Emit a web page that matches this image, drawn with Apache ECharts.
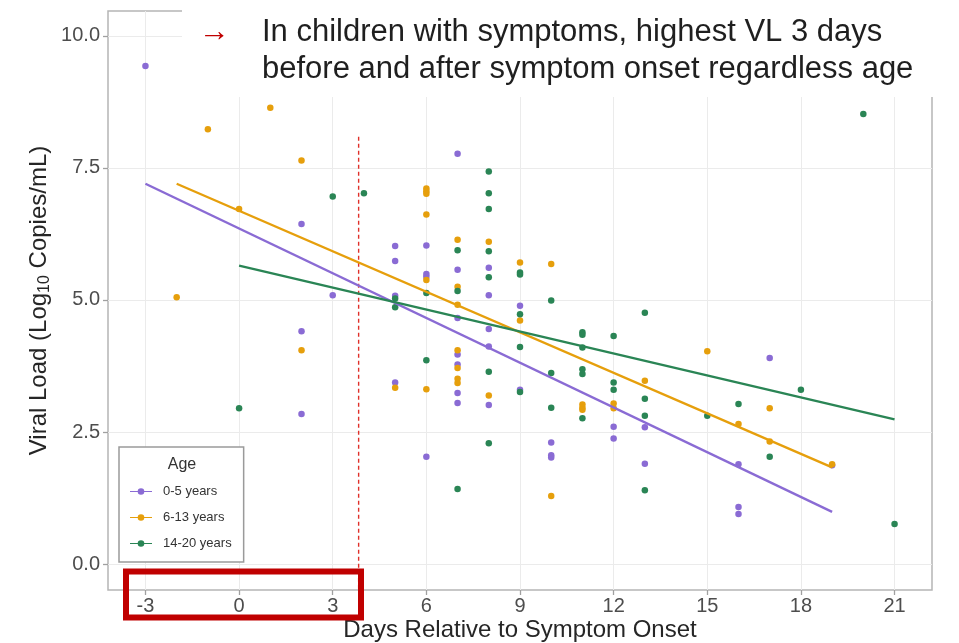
<!DOCTYPE html>
<html>
<head>
<meta charset="utf-8">
<script src="https://cdn.jsdelivr.net/npm/echarts@6/dist/echarts.min.js"></script>
<style>
html,body{margin:0;padding:0;background:#fff;}
#chart{width:959px;height:643px;}
</style>
</head>
<body>
<div id="chart"></div>
<script>
// ---- data ----
var xTicks = [-3, 0, 3, 6, 9, 12, 15, 18, 21];
var yTicks = [0, 2.5, 5, 7.5, 10];
var groupNames = ['0-5 years', '6-13 years', '14-20 years'];

var age0to5 = [
  [-3, 9.43],
  [2, 6.44], [2, 4.41], [2, 2.84],
  [3, 5.09],
  [5, 6.02], [5, 5.74], [5, 5.08], [5, 3.44],
  [6, 6.03], [6, 5.49], [6, 5.44], [6, 2.03],
  [7, 7.77], [7, 5.57], [7, 4.66], [7, 3.97], [7, 3.78], [7, 3.24], [7, 3.05],
  [8, 5.61], [8, 5.09], [8, 4.45], [8, 4.12], [8, 3.01],
  [9, 4.89], [9, 3.30],
  [10, 2.30], [10, 2.06], [10, 2.02],
  [12, 2.60], [12, 2.38],
  [13, 2.59], [13, 1.90],
  [16, 1.89], [16, 1.08], [16, 0.95],
  [17, 3.90],
  [19, 1.87]
];
var age6to13 = [
  [-2, 5.05], [-1, 8.23], [0, 6.72], [1, 8.64],
  [2, 7.64], [2, 4.05],
  [5, 3.34],
  [6, 7.11], [6, 7.06], [6, 7.01], [6, 6.62], [6, 5.38], [6, 3.31],
  [7, 6.14], [7, 5.25], [7, 4.91], [7, 4.05], [7, 3.71], [7, 3.51], [7, 3.43],
  [8, 6.10], [8, 3.19],
  [9, 5.71], [9, 4.61],
  [10, 5.68], [10, 1.29],
  [11, 3.02], [11, 2.96], [11, 2.92],
  [12, 3.04], [12, 2.95],
  [13, 3.47],
  [15, 4.03],
  [16, 2.65],
  [17, 2.95], [17, 2.32],
  [19, 1.89]
];
var age14to20 = [
  [0, 2.95], [3, 6.96], [4, 7.02],
  [5, 5.03], [5, 4.86],
  [6, 5.13], [6, 3.86],
  [7, 5.94], [7, 5.17], [7, 1.42],
  [8, 7.43], [8, 7.02], [8, 6.72], [8, 5.92], [8, 5.43], [8, 3.64], [8, 2.29],
  [9, 5.52], [9, 5.48], [9, 4.73], [9, 4.11], [9, 3.26],
  [10, 4.99], [10, 3.62], [10, 2.96],
  [11, 4.39], [11, 4.34], [11, 4.10], [11, 3.69], [11, 3.60], [11, 2.76],
  [12, 4.32], [12, 3.44], [12, 3.30],
  [13, 4.76], [13, 3.13], [13, 2.81], [13, 1.40],
  [15, 2.81], [16, 3.03], [17, 2.03], [18, 3.30],
  [20, 8.52], [21, 0.76]
];
// fitted trend lines (end points)
var fit0to5 = [[-3, 7.20], [19, 0.99]];
var fit6to13 = [[-2, 7.20], [19, 1.83]];
var fit14to20 = [[0, 5.65], [21, 2.74]];
// dashed marker near symptom onset
var onsetMarker = [[3.83, 8.09], [3.83, -0.49]];

var colors = ['#8a6bd4', '#e69f0c', '#2a8555'];
var FONT = "'Liberation Sans', Arial, sans-serif";

var legendIcon = 'path://M0,9 L40,9 L40,11 L0,11 Z M20,4 A6,6 0 1,1 20,16 A6,6 0 1,1 20,4 Z';

function scatter(name, data, color) {
  return {
    name: name, type: 'scatter', data: data, symbolSize: 6.5,
    itemStyle: {color: color, opacity: 1}, z: 3, silent: true
  };
}
function fit(name, data, color) {
  return {
    name: name, type: 'line', data: data, showSymbol: false, symbol: 'none',
    lineStyle: {color: color, width: 2.4}, itemStyle: {color: color}, z: 4, silent: true
  };
}

var chart = echarts.init(document.getElementById('chart'), null, {renderer: 'canvas'});
chart.setOption({
  animation: false,
  backgroundColor: '#fff',
  textStyle: {fontFamily: FONT},
  grid: {
    left: 108, right: 27, top: 11, bottom: 53,
    outerBoundsMode: 'none', containLabel: false,
    show: true, borderColor: '#b5b5b5', borderWidth: 1.5, backgroundColor: 'transparent'
  },
  xAxis: {
    type: 'value', min: -4.2, max: 22.2,
    name: 'Days Relative to Symptom Onset', nameLocation: 'middle', nameGap: 28, nameMoveOverlap: false,
    nameTextStyle: {fontSize: 24, color: '#262626', fontFamily: FONT},
    axisLine: {show: false, onZero: false},
    axisTick: {show: true, length: 5, customValues: xTicks, lineStyle: {color: '#a0a0a0', width: 1.3}},
    axisLabel: {customValues: xTicks, fontSize: 20, color: '#4d4d4d', margin: 6, fontFamily: FONT,
      formatter: function (v) { return String(v); }},
    splitLine: {show: true, lineStyle: {color: '#ebebeb', width: 1}}
  },
  yAxis: {
    type: 'value', min: -0.49, max: 10.47,
    name: 'Viral Load (Log{sub|10} Copies/mL)', nameLocation: 'middle', nameGap: 55, nameMoveOverlap: false,
    nameTextStyle: {fontSize: 24, color: '#262626', fontFamily: FONT,
      rich: {sub: {fontSize: 16, color: '#262626', fontFamily: FONT, verticalAlign: 'top', padding: [11, 0, 0, 0]}}},
    axisLine: {show: false, onZero: false},
    axisTick: {show: true, length: 5, customValues: yTicks, lineStyle: {color: '#a0a0a0', width: 1.3}},
    axisLabel: {customValues: yTicks, fontSize: 20, color: '#4d4d4d', margin: 8, fontFamily: FONT,
      formatter: function (v) { return v.toFixed(1); }},
    splitLine: {show: true, lineStyle: {color: '#ebebeb', width: 1}}
  },
  legend: {
    data: groupNames, orient: 'vertical', left: 119, top: 447,
    padding: [38, 12, 12, 11], itemGap: 13, itemWidth: 22, itemHeight: 11,
    icon: legendIcon, selectedMode: false,
    backgroundColor: '#fff', borderColor: '#9a9a9a', borderWidth: 1.5, borderRadius: 0,
    textStyle: {fontSize: 13, color: '#333', fontFamily: FONT, padding: [0, 0, 0, 6]}
  },
  series: [
    scatter(groupNames[0], age0to5, colors[0]),
    scatter(groupNames[1], age6to13, colors[1]),
    scatter(groupNames[2], age14to20, colors[2]),
    fit('fit 0-5', fit0to5, colors[0]),
    fit('fit 6-13', fit6to13, colors[1]),
    fit('fit 14-20', fit14to20, colors[2]),
    {
      name: 'onset', type: 'line', data: onsetMarker, showSymbol: false, symbol: 'none', silent: true,
      lineStyle: {color: '#e0302a', width: 1.4, type: [4, 3]}, z: 2
    }
  ],
  graphic: [
    {type: 'rect', z: 100, shape: {x: 182, y: 0, width: 777, height: 97}, style: {fill: '#fff'}},
    {type: 'text', z: 101, x: 199, y: 32,
      style: {text: '\u2192', font: '31px ' + FONT, fill: '#c00000', textAlign: 'left', textVerticalAlign: 'middle'}},
    {type: 'text', z: 101, x: 262, y: 32,
      style: {text: 'In children with symptoms, highest VL 3 days', font: '31px ' + FONT, fill: '#1f1f1f', textAlign: 'left', textVerticalAlign: 'middle'}},
    {type: 'text', z: 101, x: 262, y: 69,
      style: {text: 'before and after symptom onset regardless age', font: '31px ' + FONT, fill: '#1f1f1f', textAlign: 'left', textVerticalAlign: 'middle'}},
    {type: 'text', z: 101, x: 182, y: 465,
      style: {text: 'Age', font: '16px ' + FONT, fill: '#333', textAlign: 'center', textVerticalAlign: 'middle'}},
    {type: 'rect', z: 102, shape: {x: 126, y: 571.5, width: 235, height: 46},
      style: {fill: 'none', stroke: '#c00000', lineWidth: 6}}
  ]
});
</script>
</body>
</html>
